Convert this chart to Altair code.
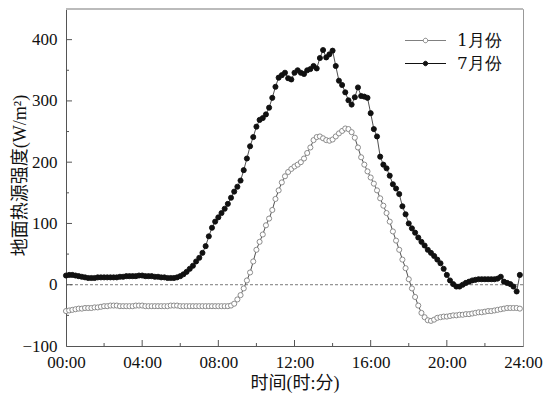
import altair as alt
import pandas as pd

# ---- data (10-minute steps, 00:00 .. 23:50) ----
series_names = ["1月份", "7月份"]
jan = [
    -43, -42, -41, -40, -39, -39,
    -38, -38, -38, -37, -37, -36,
    -35, -35, -34, -34, -34, -35,
    -35, -35, -35, -35, -34, -34,
    -34, -35, -35, -35, -35, -35,
    -35, -35, -35, -34, -34, -34,
    -35, -35, -35, -35, -35, -35,
    -35, -35, -35, -35, -35, -35,
    -35, -35, -35, -35, -34, -31,
    -24, -17, -6, 7, 20, 38,
    57, 70, 82, 97, 108, 122,
    140, 154, 167, 177, 184, 189,
    193, 196, 200, 206, 215, 224,
    236, 241, 242, 239, 236, 235,
    237, 242, 247, 251, 255, 254,
    249, 240, 224, 208, 196, 185,
    175, 165, 154, 141, 129, 117,
    103, 87, 72, 57, 41, 27,
    9, -6, -20, -34, -46, -53,
    -58, -59, -57, -54, -53, -52,
    -52, -51, -50, -50, -49, -49,
    -48, -48, -47, -46, -45, -45,
    -44, -43, -43, -42, -41, -40,
    -39, -38, -38, -38, -38, -39,
]
jul = [
    15, 16, 16, 15, 14, 13,
    12, 11, 11, 11, 12, 12,
    12, 12, 12, 12, 12, 13,
    13, 14, 14, 14, 14, 15,
    15, 14, 14, 14, 13, 13,
    12, 12, 11, 11, 11, 12,
    14, 17, 21, 26, 31, 38,
    44, 52, 63, 79, 93, 103,
    110, 117, 124, 132, 142, 152,
    160, 170, 187, 206, 226, 241,
    258, 269, 272, 278, 289, 305,
    323, 338, 342, 346, 337, 335,
    346, 350, 346, 344, 350, 352,
    357, 353, 370, 383, 371, 376,
    382, 357, 333, 326, 314, 301,
    294, 306, 322, 308, 307, 305,
    280, 254, 242, 209, 196, 190,
    178, 164, 157, 148, 128, 115,
    100, 92, 85, 77, 70, 64,
    57, 52, 47, 41, 35, 26,
    16, 7, 1, -3, -3, 0,
    3, 5, 7, 8, 9, 9,
    9, 9, 9, 9, 10, 13,
    5, 3, 1, -3, -11, 16,
]
hours = [i / 6 for i in range(144)]

x_major_ticks = [4, 8, 12, 16, 20]
x_minor_ticks = [2, 6, 10, 14, 18, 22]
y_major_ticks = [0, 100, 200, 300, 400]
y_minor_ticks = [-50, 50, 150, 250, 350]
x_label_values = [0, 4, 8, 12, 16, 20, 24]
y_label_values = [-100, 0, 100, 200, 300, 400]

df = pd.DataFrame({
    "h": hours * 2,
    "v": jan + jul,
    "s": [series_names[0]] * len(jan) + [series_names[1]] * len(jul),
})

FONT = "Liberation Serif, Noto Sans CJK SC"
W, H = 457, 337

x_scale = alt.Scale(domain=[0, 24], nice=False, zero=False)
y_scale = alt.Scale(domain=[-100, 450], nice=False, zero=False)

x_axis = alt.Axis(
    values=x_label_values,
    labelExpr="(datum.value < 10 ? '0' : '') + datum.value + ':00'",
    title="时间(时:分)", ticks=False, grid=False, domainColor="#555",
    labelFontSize=17, labelPadding=8, titleFontSize=18,
    titleY=37, titleBaseline="middle", labelFlush=False,
    labelFont="Liberation Serif", titleFont=FONT,
)
y_axis = alt.Axis(
    values=y_label_values, title="地面热源强度(W/m²)", ticks=False,
    grid=False, domainColor="#555", labelFontSize=17, labelPadding=9,
    titleFontSize=18, titleX=-46, titleY=166, titleBaseline="middle",
    titleAlign="center", labelFont="Times New Roman", titleFont=FONT,
)

LEG_PATH = ("M-4.1,0H-0.45M0.45,0H4.1"
            "M0.45,0A0.45,0.45 0 1 1 -0.45,0A0.45,0.45 0 1 1 0.45,0Z")

legend = alt.Legend(
    title=None, orient="none", legendX=336, legendY=23,
    symbolType=LEG_PATH, symbolSize=100, symbolStrokeWidth=1,
    symbolOffset=15, labelOffset=23, labelFontSize=17, labelFont="DejaVu Serif",
    labelColor="#111", rowPadding=5, padding=0,
)

lines = alt.Chart(df).mark_line(strokeWidth=0.8, color="#222").encode(
    x=alt.X("h:Q", scale=x_scale, axis=x_axis),
    y=alt.Y("v:Q", scale=y_scale, axis=y_axis),
    detail="s:N",
)

points = alt.Chart(df).mark_point(strokeWidth=0.9, opacity=1, size=26).encode(
    x=alt.X("h:Q", scale=x_scale, axis=x_axis),
    y=alt.Y("v:Q", scale=y_scale, axis=y_axis),
    fill=alt.Fill("s:N", scale=alt.Scale(domain=series_names, range=["#ffffff", "#111111"]), legend=legend),
    stroke=alt.Stroke("s:N", scale=alt.Scale(domain=series_names, range=["#808080", "#111111"]), legend=legend),
)

zero_line = alt.Chart(pd.DataFrame({"v": [0]})).mark_rule(
    strokeDash=[3, 2], color="#555", strokeWidth=0.8
).encode(y=alt.Y("v:Q", scale=y_scale, axis=y_axis))

def xticks(vals, length):
    return alt.Chart(pd.DataFrame({"h": vals})).mark_rule(color="#555", strokeWidth=1).encode(
        x=alt.X("h:Q", scale=x_scale, axis=x_axis),
        y=alt.value(H), y2=alt.value(H - length),
    )

def yticks(vals, length):
    return alt.Chart(pd.DataFrame({"v": vals})).mark_rule(color="#555", strokeWidth=1).encode(
        y=alt.Y("v:Q", scale=y_scale, axis=y_axis),
        x=alt.value(0), x2=alt.value(length),
    )

top_border = alt.Chart(pd.DataFrame({"t": [0]})).mark_rule(color="#bbbbbb", strokeWidth=2).encode(
    x=alt.value(0), x2=alt.value(W), y=alt.value(0)
)

chart = alt.layer(
    lines, zero_line, points,
    xticks(x_major_ticks, 6), xticks(x_minor_ticks, 3),
    yticks(y_major_ticks, 6), yticks(y_minor_ticks, 3),
    top_border,
).properties(
    width=W, height=H,
    autosize=alt.AutoSizeParams(type="none"),
    padding={"left": 58, "top": 1, "right": 21, "bottom": 50},
).configure_view(
    stroke="#999999", strokeWidth=1
).configure_axis(
    labelColor="#111", titleColor="#111", titleFontWeight="normal",
)

chart.save("out.html", embed_options={"renderer": "svg", "actions": False})
